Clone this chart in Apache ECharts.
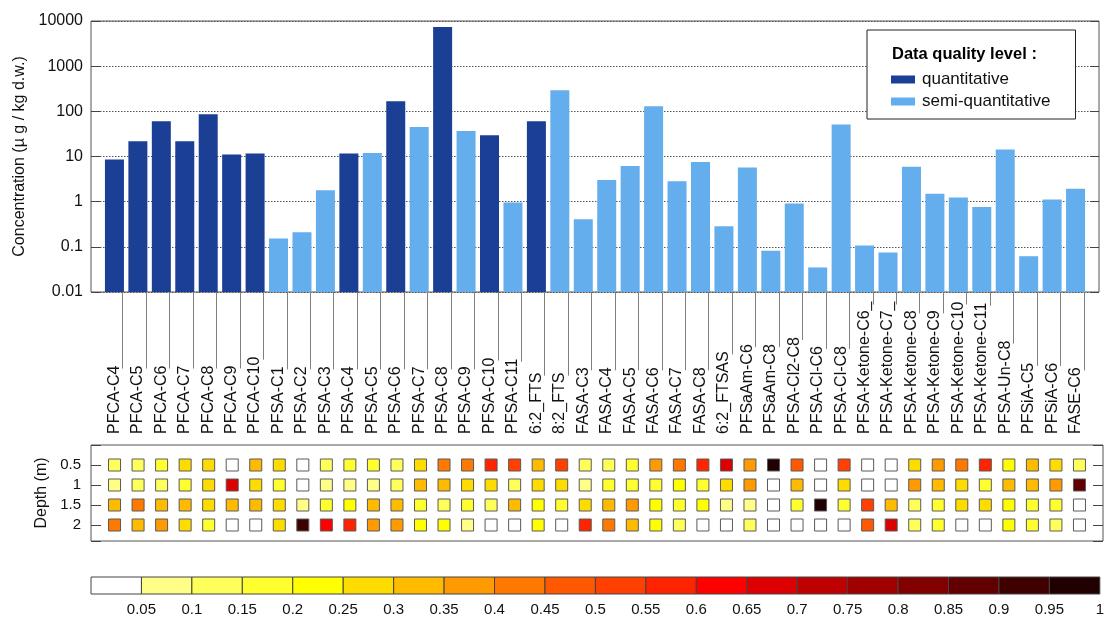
<!DOCTYPE html>
<html><head><meta charset="utf-8">
<script src="https://cdn.jsdelivr.net/npm/echarts@6/dist/echarts.min.js"></script>
<style>html,body{margin:0;padding:0;background:#fff}#c{width:1107px;height:619px}</style>
</head><body><div id="c"></div>
<script>
// ---------------- data ----------------
const categories = ["PFCA-C4","PFCA-C5","PFCA-C6","PFCA-C7","PFCA-C8","PFCA-C9","PFCA-C10",
  "PFSA-C1","PFSA-C2","PFSA-C3","PFSA-C4","PFSA-C5","PFSA-C6","PFSA-C7","PFSA-C8","PFSA-C9","PFSA-C10","PFSA-C11",
  "6:2_FTS","8:2_FTS","FASA-C3","FASA-C4","FASA-C5","FASA-C6","FASA-C7","FASA-C8","6:2_FTSAS",
  "PFSaAm-C6","PFSaAm-C8","PFSA-Cl2-C8","PFSA-Cl-C6","PFSA-Cl-C8",
  "PFSA-Ketone-C6_","PFSA-Ketone-C7_","PFSA-Ketone-C8","PFSA-Ketone-C9","PFSA-Ketone-C10","PFSA-Ketone-C11",
  "PFSA-Un-C8","PFSiA-C5","PFSiA-C6","FASE-C6"];
const concentration = [8.6,21.8,60,21.8,86,11.1,11.6,
  0.153,0.21,1.8,11.6,12,167,45,7370,36.8,29.6,0.96,
  60,293,0.41,3.0,6.2,130,2.84,7.6,0.287,
  5.7,0.082,0.91,0.035,51,
  0.107,0.075,5.9,1.49,1.24,0.76,
  14.3,0.062,1.12,1.92];
// Q = quantitative, S = semi-quantitative
const quality = ["Q","Q","Q","Q","Q","Q","Q",
  "S","S","S","Q","S","Q","S","Q","S","Q","S",
  "Q","S","S","S","S","S","S","S","S",
  "S","S","S","S","S",
  "S","S","S","S","S","S",
  "S","S","S","S"];
const seriesNames = ["quantitative","semi-quantitative"];
const depthLevels = [0.5, 1, 1.5, 2];
const depth05 = [0.12,0.12,0.17,0.27,0.27,0.02,0.32,0.27,0.02,0.12, 0.17,0.17,0.12,0.27,0.42,0.42,0.57,0.52,0.32,0.52,
  0.12,0.12,0.17,0.37,0.42,0.57,0.67,0.37,0.97,0.47, 0.02,0.52,0.02,0.02,0.27,0.37,0.42,0.57,0.22,0.32, 0.27,0.12];
const depth10 = [0.07,0.12,0.12,0.17,0.27,0.67,0.27,0.17,0.02,0.07, 0.07,0.07,0.12,0.32,0.32,0.27,0.27,0.12,0.27,0.27,
  0.07,0.17,0.17,0.17,0.22,0.17,0.27,0.37,0.02,0.32, 0.02,0.27,0.02,0.02,0.37,0.32,0.27,0.17,0.32,0.32, 0.37,0.87];
const depth15 = [0.32,0.42,0.32,0.32,0.27,0.32,0.32,0.27,0.07,0.17, 0.22,0.32,0.32,0.17,0.12,0.17,0.12,0.32,0.22,0.17,
  0.27,0.32,0.37,0.22,0.17,0.22,0.07,0.07,0.02,0.17, 0.97,0.17,0.52,0.32,0.12,0.17,0.27,0.27,0.22,0.17, 0.17,0.02];
const depth20 = [0.42,0.32,0.37,0.27,0.17,0.02,0.02,0.27,0.92,0.62, 0.57,0.37,0.37,0.22,0.22,0.07,0.02,0.02,0.22,0.02,
  0.57,0.42,0.32,0.22,0.12,0.02,0.02,0.12,0.02,0.02, 0.02,0.02,0.47,0.67,0.12,0.17,0.02,0.02,0.22,0.17, 0.12,0.02];
const depthRows = [depth05, depth10, depth15, depth20];
const colorLevels = [0,0.05,0.1,0.15,0.2,0.25,0.3,0.35,0.4,0.45,0.5,0.55,0.6,0.65,0.7,0.75,0.8,0.85,0.9,0.95,1];
const binColors = ['#ffffff','#ffff88','#ffff5c','#ffff30','#ffff00','#ffdc00','#ffbb00','#ff9a00','#ff7800','#ff5800',
  '#ff4000','#ff2400','#ff0000','#dc0000','#bf0000','#a00000','#820000','#600000','#3f0000','#200000'];

// ---------------- build ----------------
const FONT = '"Liberation Sans", Arial, Helvetica, sans-serif';
const xCats = [''].concat(categories).concat([' ']);
function padSeries(flag) {
  return ['-'].concat(concentration.map((v, i) => quality[i] === flag ? v : '-')).concat(['-']);
}
const heatData = [];
depthRows.forEach((row, r) => row.forEach((v, i) => heatData.push([i + 1, depthLevels[r], v])));
function colorOf(v) {
  for (let k = 0; k < binColors.length; k++) if (v < colorLevels[k + 1]) return binColors[k];
  return binColors[binColors.length - 1];
}
const labelMargin = 142;
const mctx = document.createElement('canvas').getContext('2d');
mctx.font = '16px ' + FONT;

const chart = echarts.init(document.getElementById('c'), null, {renderer: 'canvas'});
chart.setOption({
  animation: false,
  backgroundColor: '#fff',
  title: {
    text: 'Data quality level :', left: 892, top: 46, padding: 0, z: 12,
    textStyle: {fontFamily: FONT, fontSize: 16.5, fontWeight: 'bold', color: '#000'}
  },
  legend: {
    data: seriesNames, left: 867, top: 30, orient: 'vertical',
    padding: [41, 25, 9, 24], itemGap: 5, itemWidth: 24, itemHeight: 8, icon: 'rect',
    borderColor: '#222', borderWidth: 1, backgroundColor: '#fff', z: 10,
    textStyle: {fontFamily: FONT, fontSize: 17, color: '#111', padding: [0, 0, 0, 2]}
  },
  grid: [
    {left: 91, top: 21, width: 1012, height: 271, show: true, borderColor: '#555', borderWidth: 1, backgroundColor: 'transparent'},
    {left: 91, top: 445, width: 1012, height: 96, show: true, borderColor: '#555', borderWidth: 1, backgroundColor: 'transparent'},
    {left: 91, top: 577, width: 1012, height: 17, show: false}
  ],
  xAxis: [
    {gridIndex: 0, type: 'category', data: xCats, boundaryGap: false,
      axisLine: {show: false}, axisTick: {show: false}, splitLine: {show: false},
      axisLabel: {interval: 0, rotate: 90, margin: labelMargin, align: 'left', verticalAlign: 'middle',
        fontFamily: FONT, fontSize: 16, color: '#111'}},
    {gridIndex: 1, type: 'category', data: xCats, boundaryGap: false,
      axisLine: {show: false}, axisTick: {show: false}, axisLabel: {show: false}, splitLine: {show: false}},
    {gridIndex: 2, type: 'value', min: 0, max: 1, interval: 0.05,
      axisLine: {show: false}, axisTick: {show: false}, splitLine: {show: false},
      axisLabel: {margin: 8, fontFamily: FONT, fontSize: 15, color: '#111',
        formatter: v => v === 0 ? '' : String(+v.toFixed(2))}}
  ],
  yAxis: [
    {gridIndex: 0, type: 'log', logBase: 10, min: 0.01, max: 10000, startValue: 0.01, splitNumber: 6,
      name: 'Concentration (\u00b5 g / kg d.w.)', nameLocation: 'middle', nameGap: 57,
      nameTextStyle: {fontFamily: FONT, fontSize: 16, color: '#111'},
      axisLine: {show: false}, axisTick: {show: true, inside: true, length: 9, lineStyle: {color: '#444'}},
      splitLine: {show: true, lineStyle: {type: [1.5, 1.5], color: '#555', width: 1}},
      axisLabel: {margin: 8, fontFamily: FONT, fontSize: 16, color: '#111',
        formatter: v => String(Number(Number(v).toPrecision(3)))}},
    {gridIndex: 0, type: 'log', logBase: 10, min: 0.01, max: 10000, position: 'right', splitNumber: 6,
      axisLine: {show: false}, axisTick: {show: true, inside: true, length: 9, lineStyle: {color: '#444'}},
      splitLine: {show: false}, axisLabel: {show: false}},
    {gridIndex: 1, type: 'value', min: 0, max: 2.4, interval: 0.5, inverse: true,
      name: 'Depth (m)', nameLocation: 'middle', nameGap: 34,
      nameTextStyle: {fontFamily: FONT, fontSize: 16, color: '#111'},
      axisLine: {show: false}, splitLine: {show: false},
      axisTick: {show: true, inside: true, length: 10, lineStyle: {color: '#444'}},
      axisLabel: {margin: 10, fontFamily: FONT, fontSize: 15, color: '#111',
        formatter: v => depthLevels.indexOf(+v.toFixed(2)) >= 0 ? String(+v.toFixed(2)) : ''}},
    {gridIndex: 1, type: 'value', min: 0, max: 2.4, interval: 0.5, inverse: true, position: 'right',
      axisLine: {show: false}, splitLine: {show: false}, axisLabel: {show: false},
      axisTick: {show: true, inside: true, length: 10, lineStyle: {color: '#444'}}},
    {gridIndex: 2, type: 'value', min: 0, max: 1, show: false}
  ],
  series: [
    {name: seriesNames[0], type: 'bar', xAxisIndex: 0, yAxisIndex: 0, data: padSeries('Q'),
      barWidth: 19, barGap: '-100%', itemStyle: {color: '#1b3f95'}, z: 2},
    {name: seriesNames[1], type: 'bar', xAxisIndex: 0, yAxisIndex: 0, data: padSeries('S'),
      barWidth: 19, barGap: '-100%', itemStyle: {color: '#64aeed'}, z: 2},
    {type: 'custom', xAxisIndex: 0, yAxisIndex: 0, silent: true, clip: false,
      data: categories.map((c, i) => [i + 1, 0.01]),
      renderItem: function (params, api) {
        const i = api.value(0);
        const p = api.coord([i, 0.01]);
        const w = mctx.measureText(categories[i - 1]).width;
        const x = Math.round(p[0] + 8) + 0.5;
        return {type: 'line', shape: {x1: x, y1: p[1], x2: x, y2: p[1] + labelMargin - w + 3},
          style: {stroke: '#808080', lineWidth: 1}};
      }},
    {type: 'scatter', xAxisIndex: 1, yAxisIndex: 2, data: heatData, symbol: 'rect', symbolSize: [12, 12],
      itemStyle: {opacity: 1, color: p => colorOf(p.value[2]), borderColor: '#5a5a5a', borderWidth: 1}},
    {type: 'custom', xAxisIndex: 2, yAxisIndex: 4, silent: true, clip: false,
      data: binColors.map((c, k) => [colorLevels[k], colorLevels[k + 1], k]),
      renderItem: function (params, api) {
        const p0 = api.coord([api.value(0), 0]);
        const p1 = api.coord([api.value(1), 1]);
        return {type: 'rect', shape: {x: p0[0], y: p1[1], width: p1[0] - p0[0], height: p0[1] - p1[1]},
          style: {fill: binColors[api.value(2)], stroke: '#444', lineWidth: 1}};
      }}
  ]
});
</script></body></html>
